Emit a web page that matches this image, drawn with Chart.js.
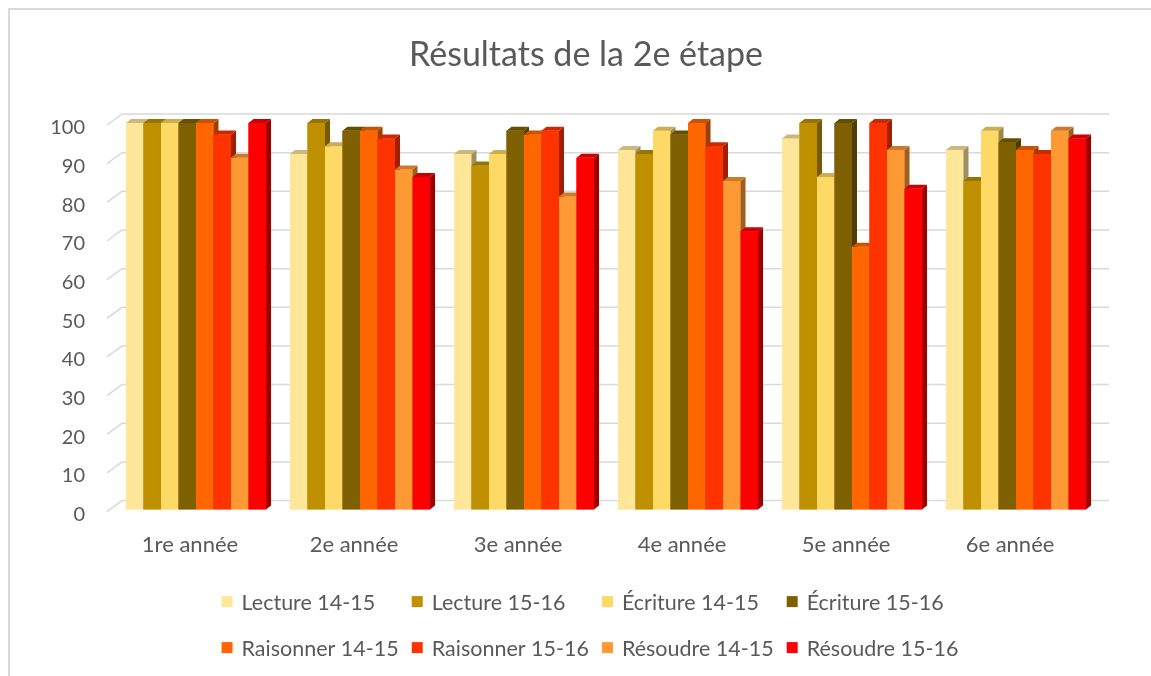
<!DOCTYPE html>
<html>
<head>
<meta charset="utf-8">
<script src="https://cdn.jsdelivr.net/npm/chart.js@4.4.1/dist/chart.umd.min.js"></script>
<style>
  html, body { margin: 0; padding: 0; background: #ffffff; }
  #wrap { position: relative; width: 1151px; height: 676px; }
</style>
</head>
<body>
<div id="wrap"><canvas id="c" width="1151" height="676"></canvas></div>
<script>
// ---- Data ----
const categories = ['1re année', '2e année', '3e année', '4e année', '5e année', '6e année'];
const seriesLabels = ['Lecture 14-15', 'Lecture 15-16', 'Écriture 14-15', 'Écriture 15-16',
                      'Raisonner 14-15', 'Raisonner 15-16', 'Résoudre 14-15', 'Résoudre 15-16'];
const lecture1415   = [100, 92, 92, 93, 96, 93];
const lecture1516   = [100, 100, 89, 92, 100, 85];
const ecriture1415  = [100, 94, 92, 98, 86, 98];
const ecriture1516  = [100, 98, 98, 97, 100, 95];
const raisonner1415 = [100, 98, 97, 100, 68, 93];
const raisonner1516 = [97, 96, 98, 94, 100, 92];
const resoudre1415  = [91, 88, 81, 85, 93, 98];
const resoudre1516  = [100, 86, 91, 72, 83, 96];
const yTickValues   = [0, 10, 20, 30, 40, 50, 60, 70, 80, 90, 100];
const chartTitle    = 'Résultats de la 2e étape';

const seriesValues = [lecture1415, lecture1516, ecriture1415, ecriture1516,
                      raisonner1415, raisonner1516, resoudre1415, resoudre1516];
const seriesColors = ['#FFE699', '#BF9000', '#FFD966', '#7F6000',
                      '#FF6600', '#FF3300', '#FF9933', '#FF0000'];

const FONT = 'Lato, "Open Sans", sans-serif';
const TEXT = '#595959';
const GRID = '#d9d9d9';

function shade(hex, f) {
  const n = parseInt(hex.slice(1), 16);
  const r = Math.round(((n >> 16) & 255) * f);
  const g = Math.round(((n >> 8) & 255) * f);
  const b = Math.round((n & 255) * f);
  return 'rgb(' + r + ',' + g + ',' + b + ')';
}

// Frame, title and back-wall gridlines
const wallPlugin = {
  id: 'wall',
  beforeDraw(chart) {
    const ctx = chart.ctx;
    ctx.save();
    ctx.fillStyle = '#ffffff';
    ctx.fillRect(0, 0, chart.width, chart.height);
    ctx.strokeStyle = GRID;
    ctx.lineWidth = 2;
    ctx.strokeRect(9, 9, chart.width + 40, chart.height + 40);
    ctx.fillStyle = TEXT;
    ctx.font = '34px ' + FONT;
    ctx.textAlign = 'center';
    ctx.textBaseline = 'middle';
    ctx.fillText(chartTitle, 586, 55);
    ctx.restore();
  },
  beforeDatasetsDraw(chart) {
    const ctx = chart.ctx;
    const y = chart.scales.y;
    const a = chart.chartArea;
    ctx.save();
    ctx.strokeStyle = GRID;
    ctx.lineWidth = 1.5;
    yTickValues.forEach(v => {
      const yf = y.getPixelForValue(v);
      const yb = yf - 9;
      ctx.beginPath();
      ctx.moveTo(a.left - 7, yf + 2);
      ctx.lineTo(a.left + 8, yb);
      ctx.lineTo(a.right + 11, yb);
      ctx.stroke();
    });
    ctx.restore();
  }
};

// 3D tops and sides, drawn in series order over the library's own bar elements
const depthPlugin = {
  id: 'depth',
  afterDatasetsDraw(chart) {
    const ctx = chart.ctx;
    const dx = 5, dy = 4;
    ctx.save();
    chart.data.datasets.forEach((ds, i) => {
      const meta = chart.getDatasetMeta(i);
      meta.data.forEach(bar => {
        bar.draw(ctx);
        const p = bar.getProps(['x', 'y', 'base', 'width'], true);
        const l = p.x - p.width / 2, r = p.x + p.width / 2;
        ctx.fillStyle = shade(ds.backgroundColor, 0.62);
        ctx.beginPath();
        ctx.moveTo(r, p.y);
        ctx.lineTo(r + dx, p.y - dy);
        ctx.lineTo(r + dx, p.base - dy);
        ctx.lineTo(r, p.base);
        ctx.closePath();
        ctx.fill();
        ctx.fillStyle = shade(ds.backgroundColor, 0.8);
        ctx.beginPath();
        ctx.moveTo(l, p.y);
        ctx.lineTo(l + dx, p.y - dy);
        ctx.lineTo(r + dx, p.y - dy);
        ctx.lineTo(r, p.y);
        ctx.closePath();
        ctx.fill();
      });
    });
    ctx.restore();
  }
};

// Legend in a 4-column grid, taken from the datasets
const legendPlugin = {
  id: 'gridLegend',
  afterDraw(chart) {
    const ctx = chart.ctx;
    const dss = chart.data.datasets;
    const cols = 4, box = 11, gapText = 9, gapItem = 13;
    ctx.save();
    ctx.font = '21.5px ' + FONT;
    const widths = dss.map(d => box + gapText + ctx.measureText(d.label).width);
    const colW = [];
    for (let c = 0; c < cols; c++) {
      let m = 0;
      for (let k = c; k < dss.length; k += cols) m = Math.max(m, widths[k]);
      colW.push(m + gapItem);
    }
    const total = colW.reduce((s, w) => s + w, 0) - gapItem;
    const x0 = 590 - total / 2;
    const rowsY = [chart.chartArea.bottom + 92, chart.chartArea.bottom + 138];
    ctx.textBaseline = 'middle';
    ctx.textAlign = 'left';
    dss.forEach((d, k) => {
      const c = k % cols, rIdx = Math.floor(k / cols);
      let x = x0;
      for (let j = 0; j < c; j++) x += colW[j];
      const yy = rowsY[rIdx];
      ctx.fillStyle = d.backgroundColor;
      ctx.fillRect(x, yy - box / 2, box, box);
      ctx.fillStyle = TEXT;
      ctx.fillText(d.label, x + box + gapText, yy + 1);
    });
    ctx.restore();
  }
};

const datasets = seriesLabels.map((lab, i) => ({
  label: lab,
  data: seriesValues[i],
  backgroundColor: seriesColors[i],
  borderWidth: 0,
  barPercentage: 1.0,
  categoryPercentage: 0.854
}));

new Chart(document.getElementById('c'), {
  type: 'bar',
  data: { labels: categories, datasets },
  plugins: [wallPlugin, depthPlugin, legendPlugin],
  options: {
    responsive: false,
    animation: false,
    layout: { padding: { left: 52, right: 53, top: 123, bottom: 96 } },
    plugins: {
      legend: { display: false },
      tooltip: { enabled: false },
      title: { display: false }
    },
    scales: {
      x: {
        grid: { display: false, drawTicks: false },
        border: { display: false },
        ticks: { color: TEXT, font: { family: FONT, size: 22 }, padding: 22, labelOffset: -6 }
      },
      y: {
        min: 0, max: 100,
        afterFit(scale) { scale.width = 62; },
        afterBuildTicks(scale) { scale.ticks = yTickValues.map(v => ({ value: v })); },
        grid: { display: false, drawTicks: false },
        border: { display: false },
        ticks: { color: TEXT, font: { family: FONT, size: 20 }, padding: 29, labelOffset: 5 }
      }
    }
  }
});
</script>
</body>
</html>
